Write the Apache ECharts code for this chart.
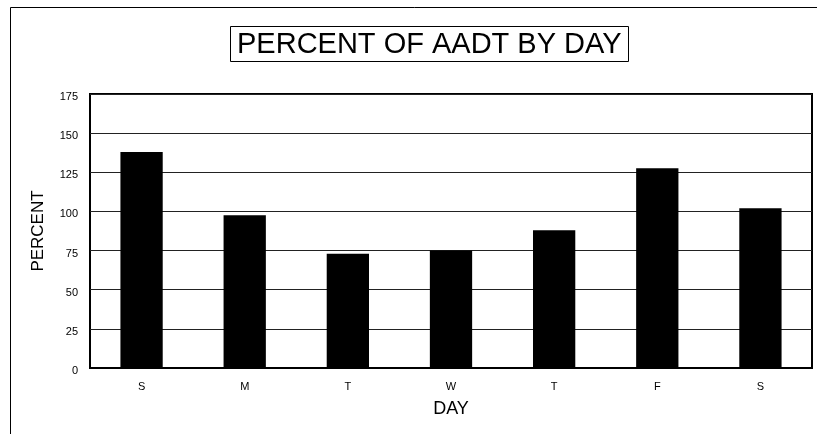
<!DOCTYPE html>
<html><head><meta charset="utf-8">
<script src="https://cdn.jsdelivr.net/npm/echarts@6/dist/echarts.min.js"></script>
<style>html,body{margin:0;padding:0;background:#fff}#c{width:817px;height:434px}</style>
</head><body><div id="c"></div>
<script>
const categories = ['S', 'M', 'T', 'W', 'T', 'F', 'S'];
const percentValues = [138, 97.5, 73, 75, 88, 127.5, 102];
const yTicks = [0, 25, 50, 75, 100, 125, 150, 175];

const chart = echarts.init(document.getElementById('c'), null, {renderer: 'canvas'});
const F = 'Liberation Sans, Arial, sans-serif';
chart.setOption({
  animation: false,
  backgroundColor: '#fff',
  title: {
    text: 'PERCENT OF AADT BY DAY',
    left: 230, top: 26,
    padding: [4, 7, 3, 7],
    borderColor: '#000', borderWidth: 1,
    textStyle: {fontFamily: F, fontSize: 29, fontWeight: 'normal', color: '#000'}
  },
  graphic: [{
    type: 'rect', shape: {x: 10.5, y: 7.5, width: 1000, height: 1000},
    style: {fill: 'none', stroke: '#000', lineWidth: 1}, z: 0
  }],
  grid: {left: 90, right: 5, top: 94, bottom: 66, show: true, borderColor: '#000', borderWidth: 2, backgroundColor: 'transparent'},
  xAxis: {
    type: 'category', data: categories,
    name: 'DAY', nameLocation: 'middle', nameGap: 32,
    nameTextStyle: {fontFamily: F, fontSize: 18, color: '#000'},
    axisLine: {show: true, lineStyle: {color: '#000', width: 2}},
    axisTick: {show: false},
    axisLabel: {fontFamily: F, fontSize: 11, color: '#000', margin: 13}
  },
  yAxis: {
    type: 'value', min: yTicks[0], max: yTicks[yTicks.length - 1], interval: 25,
    name: 'PERCENT', nameLocation: 'middle', nameGap: 43, nameRotate: 90,
    nameTextStyle: {fontFamily: F, fontSize: 17, color: '#000'},
    axisLine: {show: false}, axisTick: {show: false},
    axisLabel: {fontFamily: F, fontSize: 11, color: '#000', margin: 12, verticalAlign: 'top', lineHeight: 6},
    splitLine: {show: true, lineStyle: {color: '#222', width: 1}}
  },
  series: [{
    type: 'bar', data: percentValues, barWidth: '41%',
    itemStyle: {color: '#000'}
  }]
});
</script></body></html>
